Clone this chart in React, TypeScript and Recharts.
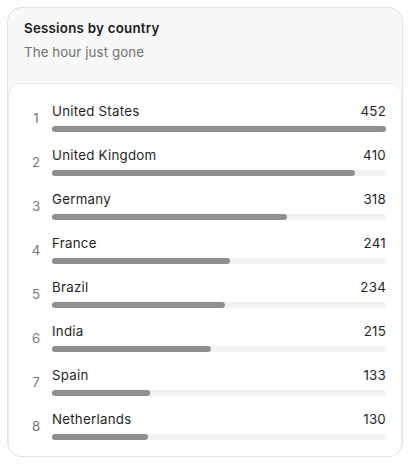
import React from 'react';
import { BarChart, Bar, XAxis, YAxis } from 'recharts';

const countries = ['United States', 'United Kingdom', 'Germany', 'France', 'Brazil', 'India', 'Spain', 'Netherlands'];
const sessions = [452, 410, 318, 241, 234, 215, 133, 130];

const data = countries.map((name, i) => ({ name, sessions: sessions[i], rank: i + 1 }));

const font = 'Inter, "Noto Sans", sans-serif';

// left tick: rank number + country name above the bar
const NameTick = (props: any) => {
    const { x, y, payload, index } = props;
    return (
        <g>
            <text x={x - 16} y={y - 11} textAnchor="middle" dominantBaseline="central" fontSize={13.3} fill="#7a7a7a" fontFamily={font}>
                {index + 1}
            </text>
            <text x={x} y={y - 18.5} textAnchor="start" dominantBaseline="central" fontSize={13.3} letterSpacing={0.25} fill="#1f1f1f" fontFamily={font}>
                {payload.value}
            </text>
        </g>
    );
};

// right tick: session count
const ValueTick = (props: any) => {
    const { x, y, payload } = props;
    return (
        <text x={x} y={y - 18.5} textAnchor="end" dominantBaseline="central" fontSize={13.3} letterSpacing={0.25} fill="#1f1f1f" fontFamily={font}>
            {payload.value}
        </text>
    );
};

const App = () => {
    return (
        <div style={{ position: 'fixed', left: 0, top: 0, width: 410, height: 464, fontFamily: font }}>
            <div style={{
                position: 'absolute', left: 7, top: 7, width: 396, height: 450, boxSizing: 'border-box',
                border: '1px solid #e3e3e3', borderRadius: 14, background: '#f8f8f8',
            }} />
            <div style={{ position: 'absolute', left: 24, top: 20, fontSize: 13.3, letterSpacing: 0.25, fontWeight: 600, color: '#1a1a1a' }}>
                Sessions by country
            </div>
            <div style={{ position: 'absolute', left: 24, top: 44, fontSize: 13.3, letterSpacing: 0.1, color: '#717171' }}>
                The hour just gone
            </div>
            <div style={{
                position: 'absolute', left: 8, top: 83, width: 394, height: 373, boxSizing: 'border-box',
                border: '1px solid #ececec', borderBottom: 'none', borderRadius: '12px 12px 13px 13px', background: '#fff',
            }}>
                <div style={{ position: 'absolute', left: -1, top: -1 }}>
                    <BarChart
                        width={394}
                        height={376}
                        data={data}
                        layout="vertical"
                        margin={{ top: 24, right: 0, left: 0, bottom: 0 }}
                        style={{ overflow: 'visible' }}
                    >
                        <XAxis type="number" domain={[0, 'dataMax']} hide />
                        <YAxis
                            yAxisId="names"
                            type="category"
                            dataKey="name"
                            width={44}
                            axisLine={false}
                            tickLine={false}
                            tickSize={0}
                            tickMargin={0}
                            interval={0}
                            tick={<NameTick />}
                        />
                        <YAxis
                            yAxisId="values"
                            orientation="right"
                            type="category"
                            dataKey="sessions"
                            width={16}
                            axisLine={false}
                            tickLine={false}
                            tickSize={0}
                            tickMargin={0}
                            interval={0}
                            tick={<ValueTick />}
                        />
                        <Bar
                            yAxisId="names"
                            dataKey="sessions"
                            fill="#8f8f8f"
                            barSize={6}
                            radius={3}
                            background={{ fill: '#f2f2f2', radius: 3 }}
                            isAnimationActive={false}
                        />
                    </BarChart>
                </div>
            </div>
        </div>
    );
};

export default App;
